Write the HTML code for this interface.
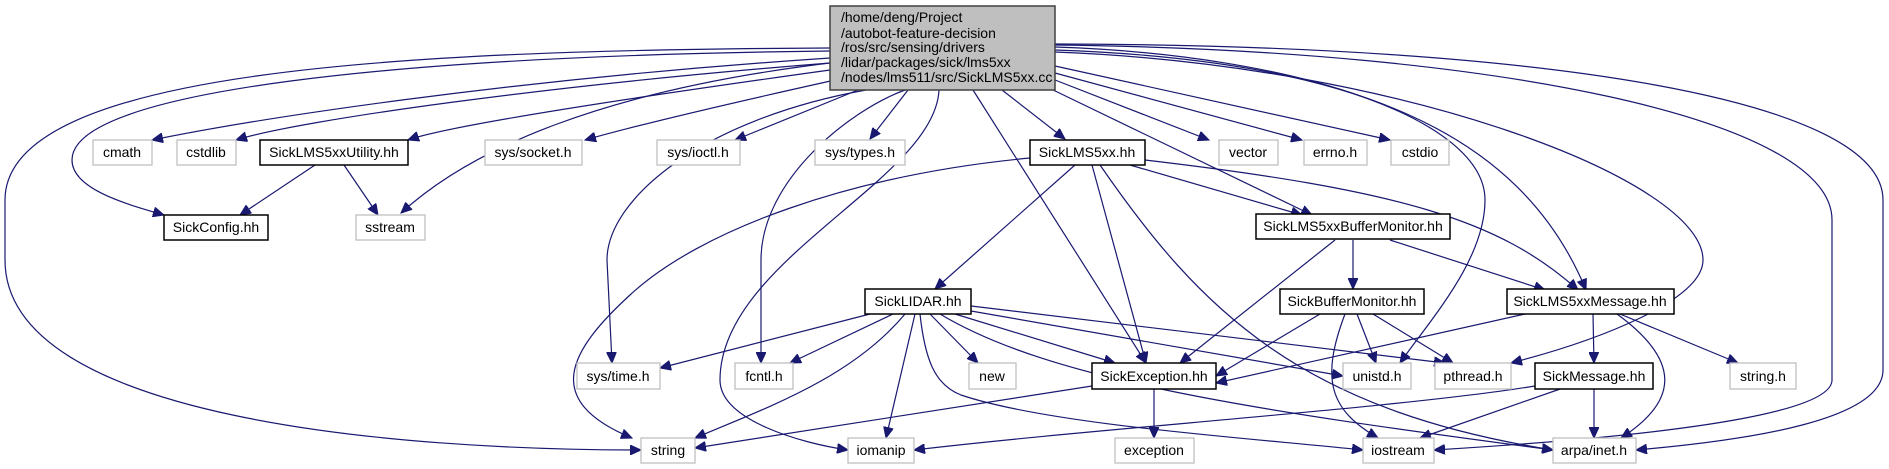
<!DOCTYPE html>
<html><head><meta charset="utf-8"><style>
html,body{margin:0;padding:0;background:#fff;}
svg{display:block;}
text{font-family:"Liberation Sans",sans-serif;font-size:14px;fill:#000;}
.g{fill:#fff;stroke:#bfbfbf;stroke-width:1.3;}
.b{fill:#fff;stroke:#000;stroke-width:1.5;}
path.e{fill:none;stroke:#191970;stroke-width:1.2;marker-end:url(#a);}
</style></head><body>
<svg width="1889" height="469" viewBox="0 0 1889 469" xmlns="http://www.w3.org/2000/svg">
<defs><marker id="a" markerUnits="userSpaceOnUse" markerWidth="12" markerHeight="10" refX="11" refY="5" orient="auto"><path d="M0,0 L11,5 L0,10 Z" fill="#191970" stroke="#191970"/></marker></defs>

<path class="e" d="M830,48 C 400,50 5,70 5,200 L5,260 C 5,420 400,450 641,450"/>
<path class="e" d="M830,51 C 400,56 72,90 72,160 C 72,190 130,205 164,215"/>
<path class="e" d="M830,58 C 500,80 250,120 152,140"/>
<path class="e" d="M830,63 C 550,85 300,120 236,140"/>
<path class="e" d="M830,70 C 650,95 450,125 408,140"/>
<path class="e" d="M838,62 C 600,90 470,150 401,213"/>
<path class="e" d="M835,80 C 700,110 620,130 585,140"/>
<path class="e" d="M858,90 L735,140"/>
<path class="e" d="M908,90 L870,139"/>
<path class="e" d="M866,90 C 700,120 607,200 607,260 L612,363"/>
<path class="e" d="M905,90 C 850,110 761,180 761,260 L761,363"/>
<path class="e" d="M939,90 C 935,180 720,260 720,380 C 720,420 800,443 848,450"/>
<path class="e" d="M973,90 L1146,363"/>
<path class="e" d="M1002,90 L1065,139"/>
<path class="e" d="M1049,88 L1312,215"/>
<path class="e" d="M1055,80 L1209,140"/>
<path class="e" d="M1055,73 L1302,140"/>
<path class="e" d="M1055,66 L1390,140"/>
<path class="e" d="M1055,47 C 1300,55 1485,120 1485,200 C 1485,260 1430,320 1400,363"/>
<path class="e" d="M1055,50 C 1350,60 1520,130 1586,290"/>
<path class="e" d="M1055,52 C 1400,65 1703,180 1703,260 C 1703,300 1600,340 1511,363"/>
<path class="e" d="M1055,45 C 1500,50 1832,120 1832,220 L1832,380 C 1832,420 1600,440 1434,450"/>
<path class="e" d="M1055,44 C 1550,45 1883,100 1883,200 L1883,370 C 1883,420 1750,440 1636,450"/>

<path class="e" d="M315,165 L240,215"/>
<path class="e" d="M344,165 L378,215"/>

<path class="e" d="M1030,158 C 850,175 700,230 630,295 C 570,350 540,400 632,438"/>
<path class="e" d="M1075,165 L935,289"/>
<path class="e" d="M1092,165 L1146,363"/>
<path class="e" d="M1100,165 C 1200,310 1300,410 1553,450"/>
<path class="e" d="M1130,165 L1302,215"/>
<path class="e" d="M1145,160 C 1400,190 1500,220 1578,290"/>

<path class="e" d="M1353,240 L1353,289"/>
<path class="e" d="M1390,240 L1545,290"/>
<path class="e" d="M1335,240 L1180,363"/>

<path class="e" d="M870,314 L660,368"/>
<path class="e" d="M893,314 L790,363"/>
<path class="e" d="M905,314 C 850,380 760,410 695,438"/>
<path class="e" d="M915,314 L886,438"/>
<path class="e" d="M930,314 L978,363"/>
<path class="e" d="M955,314 L1115,363"/>
<path class="e" d="M920,314 C 925,360 935,385 961,395 C 1050,425 1250,438 1363,450"/>
<path class="e" d="M940,314 C 1050,380 1250,410 1553,450"/>
<path class="e" d="M971,311 L1343,376"/>
<path class="e" d="M971,306 L1445,363"/>

<path class="e" d="M1320,314 L1216,376"/>
<path class="e" d="M1357,314 L1376,363"/>
<path class="e" d="M1373,314 L1453,363"/>
<path class="e" d="M1345,314 C 1320,380 1330,410 1378,438"/>

<path class="e" d="M1525,314 L1216,383"/>
<path class="e" d="M1593,314 L1594,363"/>
<path class="e" d="M1617,314 C 1680,360 1680,400 1621,438"/>
<path class="e" d="M1620,314 L1738,363"/>

<path class="e" d="M1092,386 L695,448"/>
<path class="e" d="M1154,389 L1154,438"/>

<path class="e" d="M1535,386 C 1400,408 1100,428 914,450"/>
<path class="e" d="M1563,388 L1420,438"/>
<path class="e" d="M1594,388 L1594,438"/>

<rect x="830" y="6" width="225" height="84" fill="#bfbfbf" stroke="#404040" stroke-width="1.5"/>
<text x="841" y="22">/home/deng/Project</text>
<text x="841" y="38">/autobot-feature-decision</text>
<text x="841" y="52">/ros/src/sensing/drivers</text>
<text x="841" y="67">/lidar/packages/sick/lms5xx</text>
<text x="841" y="82">/nodes/lms511/src/SickLMS5xx.cc</text>

<g text-anchor="middle">
<rect class="g" x="93" y="140" width="59" height="25"/><text x="122" y="157">cmath</text>
<rect class="g" x="177" y="140" width="59" height="25"/><text x="206" y="157">cstdlib</text>
<rect class="b" x="260" y="140" width="148" height="25"/><text x="334" y="157">SickLMS5xxUtility.hh</text>
<rect class="g" x="485" y="140" width="97" height="25"/><text x="533" y="157">sys/socket.h</text>
<rect class="g" x="657" y="140" width="83" height="25"/><text x="698" y="157">sys/ioctl.h</text>
<rect class="g" x="815" y="140" width="90" height="25"/><text x="860" y="157">sys/types.h</text>
<rect class="b" x="1030" y="140" width="115" height="25"/><text x="1087" y="157">SickLMS5xx.hh</text>
<rect class="g" x="1219" y="140" width="59" height="25"/><text x="1248" y="157">vector</text>
<rect class="g" x="1304" y="140" width="63" height="25"/><text x="1335" y="157">errno.h</text>
<rect class="g" x="1391" y="140" width="58" height="25"/><text x="1420" y="157">cstdio</text>

<rect class="b" x="164" y="215" width="104" height="25"/><text x="216" y="232">SickConfig.hh</text>
<rect class="g" x="356" y="215" width="69" height="25"/><text x="390" y="232">sstream</text>
<rect class="b" x="1256" y="214" width="194" height="25"/><text x="1353" y="231">SickLMS5xxBufferMonitor.hh</text>

<rect class="b" x="865" y="289" width="106" height="25"/><text x="918" y="306">SickLIDAR.hh</text>
<rect class="b" x="1280" y="289" width="144" height="25"/><text x="1352" y="306">SickBufferMonitor.hh</text>
<rect class="b" x="1507" y="289" width="167" height="25"/><text x="1590" y="306">SickLMS5xxMessage.hh</text>

<rect class="g" x="577" y="363" width="83" height="26"/><text x="618" y="381">sys/time.h</text>
<rect class="g" x="735" y="363" width="58" height="26"/><text x="764" y="381">fcntl.h</text>
<rect class="g" x="969" y="363" width="47" height="26"/><text x="992" y="381">new</text>
<rect class="b" x="1092" y="363" width="124" height="26"/><text x="1154" y="381">SickException.hh</text>
<rect class="g" x="1343" y="363" width="68" height="26"/><text x="1377" y="381">unistd.h</text>
<rect class="g" x="1435" y="363" width="76" height="26"/><text x="1473" y="381">pthread.h</text>
<rect class="b" x="1535" y="363" width="118" height="26"/><text x="1594" y="381">SickMessage.hh</text>
<rect class="g" x="1730" y="363" width="66" height="26"/><text x="1763" y="381">string.h</text>

<rect class="g" x="641" y="438" width="54" height="25"/><text x="668" y="455">string</text>
<rect class="g" x="848" y="438" width="66" height="25"/><text x="881" y="455">iomanip</text>
<rect class="g" x="1115" y="438" width="79" height="25"/><text x="1154" y="455">exception</text>
<rect class="g" x="1363" y="438" width="71" height="25"/><text x="1398" y="455">iostream</text>
<rect class="g" x="1553" y="438" width="83" height="25"/><text x="1594" y="455">arpa/inet.h</text>
</g>
</svg>
</body></html>
